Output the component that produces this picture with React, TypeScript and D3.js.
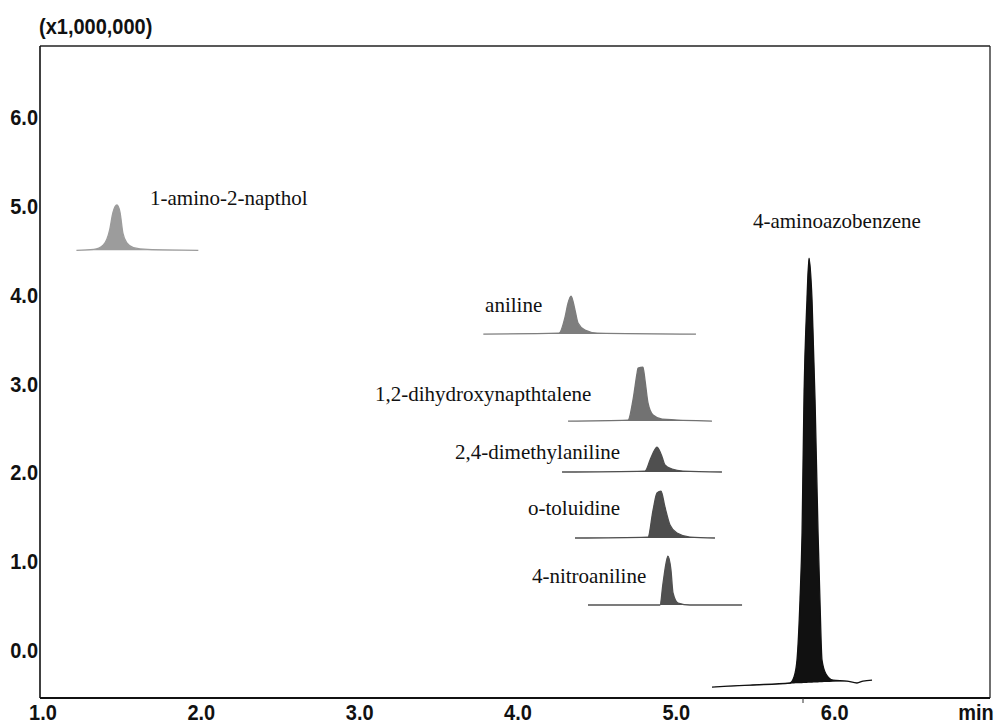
import React from 'react';
import * as d3 from 'd3';

// Axis ticks / units
const xTicks = [1, 2, 3, 4, 5, 6];
const yTicks = [0, 1, 2, 3, 4, 5, 6];
const xUnit = 'min';
const yUnit = '(x1,000,000)';
const xDomain = [1, 7];
const yDomain = [-0.54, 6.8];

// Compound names
const compounds = [
  '1-amino-2-napthol',
  'aniline',
  '1,2-dihydroxynapthtalene',
  '2,4-dimethylaniline',
  'o-toluidine',
  '4-nitroaniline',
  '4-aminoazobenzene',
];

// Traces: [time (min), signal (x1,000,000, offset as displayed)]
const aminoNaptholTrace = [
  [1.23, 4.5], [1.34, 4.51], [1.4, 4.56], [1.44, 4.73], [1.46, 4.92], [1.486, 5.01],
  [1.505, 4.93], [1.524, 4.69], [1.55, 4.58], [1.59, 4.53], [1.68, 4.51], [2.0, 4.5],
];
const anilineTrace = [
  [3.8, 3.557], [4.278, 3.568], [4.316, 3.748], [4.335, 3.906], [4.354, 3.985],
  [4.379, 3.827], [4.398, 3.681], [4.442, 3.602], [4.518, 3.568], [5.143, 3.557],
];
const dihydroxyTrace = [
  [4.335, 2.578], [4.714, 2.589], [4.745, 2.814], [4.771, 3.118], [4.777, 3.175],
  [4.808, 3.186], [4.821, 3.04], [4.84, 2.781], [4.872, 2.645], [4.929, 2.6], [5.244, 2.578],
];
const dimethylTrace = [
  [4.297, 2.004], [4.821, 2.015], [4.853, 2.139], [4.872, 2.218], [4.897, 2.285],
  [4.929, 2.173], [4.947, 2.083], [4.992, 2.038], [5.061, 2.015], [5.307, 2.004],
];
const toluidineTrace = [
  [4.379, 1.261], [4.84, 1.272], [4.872, 1.576], [4.897, 1.767], [4.922, 1.79],
  [4.947, 1.61], [4.979, 1.407], [5.023, 1.317], [5.105, 1.272], [5.263, 1.261],
];
const nitroanilineTrace = [
  [4.461, 0.507], [4.916, 0.507], [4.935, 0.754], [4.954, 0.979], [4.966, 1.058],
  [4.985, 0.901], [4.998, 0.642], [5.03, 0.529], [5.105, 0.507], [5.434, 0.507],
];
const aminoazobenzeneTrace = [
  [5.244, -0.417], [5.484, -0.394], [5.737, -0.371], [5.762, -0.304], [5.781, -0.113],
  [5.8, 0.563], [5.813, 1.317], [5.825, 2.814], [5.844, 3.94], [5.857, 4.413],
  [5.876, 3.94], [5.895, 2.814], [5.914, 1.317], [5.926, 0.563], [5.939, -0.113],
  [5.964, -0.27], [6.008, -0.338], [6.097, -0.349], [6.16, -0.371], [6.198, -0.349], [6.255, -0.338],
];
const traces = [
  aminoNaptholTrace, anilineTrace, dihydroxyTrace, dimethylTrace,
  toluidineTrace, nitroanilineTrace, aminoazobenzeneTrace,
];

// Label anchors [time, signal]
const labelAnchors = [
  [1.695, 5.01], [3.811, 3.805], [3.116, 2.803], [3.621, 2.15],
  [4.082, 1.52], [4.107, 0.754], [5.503, 4.751],
];

// Peak marker on the time axis
const markerTimes = [5.819];

const shades = ['#9c9c9c', '#7e7e7e', '#727272', '#4f4f4f', '#4d4d4d', '#515151', '#111111'];

export default function App() {
  const W = 995;
  const H = 724;
  const left = 40, right = 990, top = 46, bottom = 698;
  const x = d3.scaleLinear().domain(xDomain).range([left, right]);
  const y = d3.scaleLinear().domain(yDomain).range([bottom, top]);

  const line = d3.line<number[]>().x((d) => x(d[0])).y((d) => y(d[1])).curve(d3.curveMonotoneX);

  const areaFor = (pts: number[][]) => {
    const a = pts[0];
    const b = pts[pts.length - 1];
    const chord = (t: number) => a[1] + ((t - a[0]) / (b[0] - a[0])) * (b[1] - a[1]);
    return d3
      .area<number[]>()
      .x((d) => x(d[0]))
      .y0((d) => y(chord(d[0])))
      .y1((d) => y(Math.max(d[1], chord(d[0]))))
      .curve(d3.curveMonotoneX)(pts);
  };

  const sans = '"Liberation Sans", Arial, sans-serif';
  const serif = '"Liberation Serif", "Times New Roman", serif';
  const tickText = (key: string, tx: number, ty: number, anchor: string, s: string) => (
    <text
      key={key}
      transform={`translate(${tx},${ty}) scale(1,1.12)`}
      textAnchor={anchor}
      fontFamily={sans}
      fontWeight="bold"
      fontSize={20}
      fill="#111"
    >
      {s}
    </text>
  );

  return (
    <svg width={W} height={H} style={{ position: 'absolute', left: 0, top: 0, background: '#fff' }}>
      <rect x={0} y={0} width={W} height={H} fill="#fff" />
      {/* plot frame */}
      <line x1={left} x2={right} y1={top} y2={top} stroke="#222" strokeWidth={1.3} />
      <line x1={right} x2={right} y1={top} y2={bottom} stroke="#222" strokeWidth={1.3} />
      <line x1={left} x2={left} y1={top} y2={bottom} stroke="#111" strokeWidth={1.6} />
      <line x1={left} x2={right} y1={bottom} y2={bottom} stroke="#111" strokeWidth={2} />

      {markerTimes.map((t, i) => (
        <line key={i} x1={x(t)} x2={x(t)} y1={bottom} y2={bottom + 5} stroke="#333" strokeWidth={1} />
      ))}

      {/* unit label */}
      <text transform="translate(39,34) scale(1,1.08)" fontFamily={sans} fontWeight="bold" fontSize={20} fill="#111">
        {yUnit}
      </text>

      {/* y tick labels */}
      {yTicks.map((v) => tickText('y' + v, 38, y(v) + 8, 'end', v.toFixed(1)))}

      {/* x tick labels */}
      {xTicks.map((t) => tickText('x' + t, x(t) + 3, 720, 'middle', t.toFixed(1)))}
      {tickText('unit', x(xDomain[1]) - 14, 720, 'middle', xUnit)}

      {/* traces */}
      {traces.map((pts, i) => (
        <g key={compounds[i]}>
          <path d={areaFor(pts) || ''} fill={shades[i]} stroke="none" />
          <path d={line(pts) || ''} fill="none" stroke={shades[i]} strokeWidth={1.3} />
        </g>
      ))}

      {/* compound labels */}
      {compounds.map((c, i) => (
        <text key={c} x={x(labelAnchors[i][0])} y={y(labelAnchors[i][1])} fontFamily={serif} fontSize={21} fill="#111">
          {c}
        </text>
      ))}
    </svg>
  );
}
